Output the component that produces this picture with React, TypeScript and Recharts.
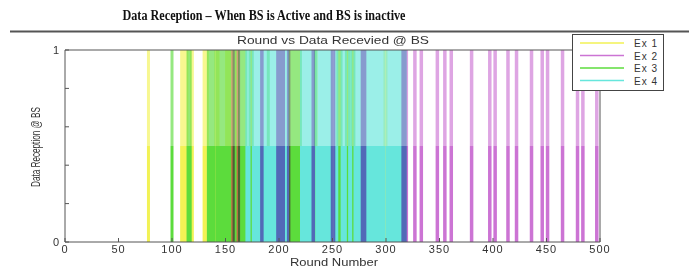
import { Line, LineChart, XAxis, YAxis } from "recharts";

const TITLE = "Data Reception – When BS is Active and BS is inactive";
const PLOT_TITLE = "Round vs Data Recevied @ BS";
const X_LABEL = "Round Number";
const Y_LABEL = "Data Reception @ BS";

const X_TICKS = [0, 50, 100, 150, 200, 250, 300, 350, 400, 450, 500];
const Y_TICKS = [0, 0.2, 0.4, 0.6, 0.8, 1];
const Y_TICK_LABELS: Record<number, string> = { 0: "0", 1: "1" };

const EX1_ROUNDS = [78, 109, 110, 111, 112, 113, 114, 118, 119, 130, 131, 132, 133, 141, 143, 151, 153, 155, 156, 160, 161, 235, 299, 300];
const EX2_ROUNDS = [157, 162, 184, 199, 200, 201, 202, 203, 204, 209, 232, 250, 251, 278, 279, 280, 316, 317, 318, 319, 327, 333, 348, 355, 361, 380, 397, 402, 414, 422, 436, 446, 451, 465, 479, 484, 497];
const EX3_ROUNDS = [100, 115, 116, 117, 134, 135, 136, 137, 138, 139, 142, 144, 145, 146, 147, 148, 149, 150, 152, 154, 158, 159, 163, 164, 165, 166, 167, 168, 169, 173, 174, 175, 190, 210, 211, 212, 213, 214, 215, 216, 217, 218, 219, 220, 234, 255, 256, 257, 258, 263, 264, 265, 268, 269, 270];
const EX4_ROUNDS = [170, 171, 172, 176, 177, 178, 179, 180, 181, 182, 183, 185, 186, 187, 188, 189, 191, 192, 193, 194, 195, 196, 197, 198, 200, 201, 202, 203, 205, 206, 207, 208, 221, 222, 223, 224, 225, 226, 227, 228, 229, 230, 231, 233, 236, 237, 238, 239, 240, 241, 242, 243, 244, 245, 246, 247, 248, 249, 252, 253, 254, 259, 260, 261, 262, 266, 267, 271, 272, 273, 274, 275, 276, 277, 279, 280, 281, 282, 283, 284, 285, 286, 287, 288, 289, 290, 291, 292, 293, 294, 295, 296, 297, 298, 301, 302, 303, 304, 305, 306, 307, 308, 309, 310, 311, 312, 313, 314, 315, 317, 318];

// drawn in this order; Ex 2 last so it can blend over the others
const SERIES = [
  { name: "Ex 1", color: "#f2f255", rounds: EX1_ROUNDS, width: 3, blend: false },
  { name: "Ex 3", color: "#5cdc3c", rounds: EX3_ROUNDS, width: 3, blend: false },
  { name: "Ex 4", color: "#66e6dc", rounds: EX4_ROUNDS, width: 3, blend: false },
  { name: "Ex 2", color: "#cc74d4", rounds: EX2_ROUNDS, width: 3.5, blend: true },
];
const LEGEND_ORDER = ["Ex 1", "Ex 2", "Ex 3", "Ex 4"];

// vertical strokes between two levels, broken apart with null points
const stems = (rounds: number[], from: number, to: number) =>
  rounds.flatMap((r) => [
    { x: r, y: from },
    { x: r, y: to },
    { x: r, y: null },
  ]);

const tickFont = { fontSize: 11, fill: "#333", fontFamily: "Liberation Sans", letterSpacing: 1 };

export default function App() {
  return (
    <div style={{ position: "fixed", left: 0, top: 0, width: 689, height: 270, background: "#fff", overflow: "hidden" }}>
      <style>{".blend path { mix-blend-mode: multiply; }"}</style>
      <LineChart width={689} height={270} margin={{ top: 49, right: 88, bottom: 0, left: 45 }}>
        <XAxis
          dataKey="x"
          type="number"
          domain={[0, 500]}
          ticks={X_TICKS}
          allowDataOverflow
          height={28}
          tickSize={-4}
          tickMargin={7}
          stroke="#555"
          tick={tickFont}
        />
        <XAxis
          xAxisId="top"
          orientation="top"
          type="number"
          domain={[0, 500]}
          ticks={X_TICKS}
          height={1}
          tickSize={-4}
          tickFormatter={() => ""}
          stroke="#555"
        />
        <YAxis
          type="number"
          domain={[0, 1]}
          ticks={Y_TICKS}
          width={20}
          tickSize={-4}
          tickMargin={9}
          stroke="#555"
          tick={tickFont}
          tickFormatter={(v: number) => Y_TICK_LABELS[v] ?? ""}
        />
        <YAxis
          yAxisId="right"
          orientation="right"
          type="number"
          domain={[0, 1]}
          ticks={Y_TICKS}
          width={1}
          tickSize={-4}
          tickFormatter={() => ""}
          stroke="#555"
        />
        {SERIES.map((s) => (
          <Line
            key={s.name + "-low"}
            className={s.blend ? "blend" : undefined}
            data={stems(s.rounds, 0, 0.5)}
            dataKey="y"
            stroke={s.color}
            strokeWidth={s.width}
            dot={false}
            activeDot={false}
            connectNulls={false}
            isAnimationActive={false}
          />
        ))}
        {SERIES.map((s) => (
          <Line
            key={s.name + "-high"}
            className={s.blend ? "blend" : undefined}
            data={stems(s.rounds, 0.5, 1)}
            dataKey="y"
            stroke={s.color}
            strokeOpacity={0.65}
            strokeWidth={s.width}
            dot={false}
            activeDot={false}
            connectNulls={false}
            isAnimationActive={false}
          />
        ))}
      </LineChart>

      <svg width={689} height={270} style={{ position: "absolute", left: 0, top: 0, pointerEvents: "none" }}>
        <text
          x={264}
          y={20}
          textAnchor="middle"
          fontFamily="Liberation Serif"
          fontWeight="bold"
          fontSize={15}
          fill="#111"
          textLength={283}
          lengthAdjust="spacingAndGlyphs"
        >
          {TITLE}
        </text>
        <line x1={10} x2={689} y1={31.5} y2={31.5} stroke="#555" strokeWidth={2} />
        <text
          x={333}
          y={44}
          textAnchor="middle"
          fontFamily="Liberation Sans"
          fontSize={11}
          fill="#333"
          textLength={192}
          lengthAdjust="spacingAndGlyphs"
        >
          {PLOT_TITLE}
        </text>
        <text
          x={334}
          y={266}
          textAnchor="middle"
          fontFamily="Liberation Sans"
          fontSize={11}
          fill="#333"
          textLength={88}
          lengthAdjust="spacingAndGlyphs"
        >
          {X_LABEL}
        </text>
        <text
          x={0}
          y={0}
          transform="translate(40 147) rotate(-90)"
          textAnchor="middle"
          fontFamily="Liberation Sans"
          fontSize={12.5}
          fill="#333"
          textLength={80}
          lengthAdjust="spacingAndGlyphs"
        >
          {Y_LABEL}
        </text>
      </svg>

      <svg width={92} height={57} style={{ position: "absolute", left: 572, top: 34 }}>
        <rect x={0.5} y={0.5} width={91} height={56} fill="#fff" stroke="#444" />
        {LEGEND_ORDER.map((name, i) => {
          const s = SERIES.find((e) => e.name === name)!;
          return (
            <g key={name}>
              <line x1={8} x2={52} y1={9 + i * 12.5} y2={9 + i * 12.5} stroke={s.color} strokeWidth={1.5} />
              <text
                x={86}
                y={13 + i * 12.5}
                textAnchor="end"
                fontFamily="Liberation Sans"
                fontSize={10}
                letterSpacing={1}
                fill="#333"
              >
                {name}
              </text>
            </g>
          );
        })}
      </svg>
    </div>
  );
}
